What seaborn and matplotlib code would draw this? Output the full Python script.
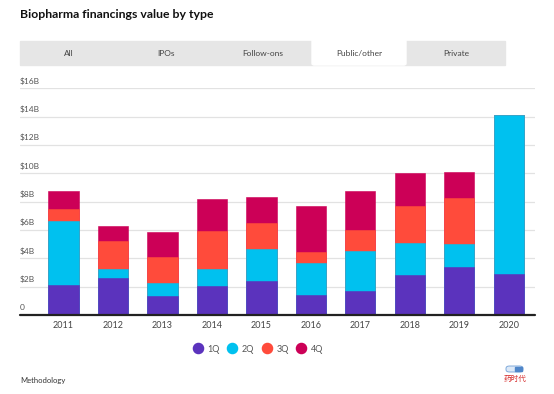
import numpy as np
import pandas as pd
import matplotlib
matplotlib.use('Agg')
import matplotlib.pyplot as plt
import seaborn as sns
from matplotlib.lines import Line2D
from matplotlib.patches import Rectangle, FancyBboxPatch

years = ['2011', '2012', '2013', '2014', '2015', '2016', '2017', '2018', '2019', '2020']
q1 = [2.09, 2.59, 1.34, 2.07, 2.38, 1.44, 1.69, 2.82, 3.39, 2.87]
q2 = [4.57, 0.66, 0.94, 1.18, 2.26, 2.21, 2.83, 2.26, 1.60, 11.25]
q3 = [0.80, 1.97, 1.81, 2.66, 1.85, 0.80, 1.48, 2.61, 3.27, 0.0]
q4 = [1.27, 1.06, 1.77, 2.25, 1.84, 3.22, 2.73, 2.31, 1.83, 0.0]
quarters = ['1Q', '2Q', '3Q', '4Q']
colors = ['#5b33bd', '#00c1ef', '#ff4b3b', '#cc0057']
y_ticks = [0, 2, 4, 6, 8, 10, 12, 14, 16]
y_labels = ['0', '$2B', '$4B', '$6B', '$8B', '$10B', '$12B', '$14B', '$16B']
tabs = ['All', 'IPOs', 'Follow-ons', 'Public/other', 'Private']

sns.set_style('white')
plt.rcParams['font.family'] = ['Lato', 'DejaVu Sans']

W, H = 554, 394
fig = plt.figure(figsize=(W / 100, H / 100), dpi=100)

def fx(px):
    return px / W

def fy(py):
    return 1 - py / H

ax = fig.add_axes([fx(20), fy(315), fx(535) - fx(20), fy(88.3) - fy(315)])

df = pd.DataFrame({'year': years, '1Q': q1, '2Q': q2, '3Q': q3, '4Q': q4})
cum = df[quarters].cumsum(axis=1)

# draw tallest stack first, lower segments painted over it
for qq, col in reversed(list(zip(quarters, colors))):
    sns.barplot(x=df['year'], y=cum[qq], color=col, width=0.61, ax=ax,
                saturation=1, edgecolor=col, linewidth=0.4)

ax.set_xlim(-0.88, 9.53)
ax.set_ylim(0, 16)
ax.set_yticks(y_ticks)
ax.set_yticklabels([])
ax.grid(axis='y', color='#e2e2e2', lw=0.9)
ax.set_axisbelow(True)
sns.despine(ax=ax, left=True, bottom=True)
ax.set_xlabel('')
ax.set_ylabel('')
ax.tick_params(axis='x', length=0, labelsize=6.5, labelcolor='#444444', pad=4)
ax.tick_params(axis='y', length=0)
ax.axhline(0, color='#222222', lw=1.6, clip_on=False, zorder=5)

for v, lab in zip(y_ticks, y_labels):
    ax.text(0, v + 0.25, lab, transform=ax.get_yaxis_transform(), ha='left', va='bottom',
            fontsize=6, color='#555555')

# title
fig.text(fx(20), fy(15), 'Biopharma financings value by type', fontsize=8.8, fontweight='bold',
         color='#111111', va='center', ha='left')

# tab strip
fig.patches.append(Rectangle((fx(20), fy(65)), fx(505) - fx(20), fy(41) - fy(65),
                             transform=fig.transFigure, color='#e6e6e6', zorder=0))
fig.patches.append(FancyBboxPatch((fx(312), fy(65)), fx(406) - fx(312), fy(39) - fy(65),
                                  boxstyle='round,pad=0,rounding_size=0.004',
                                  transform=fig.transFigure, color='white', zorder=1))
edges = np.linspace(20, 505, len(tabs) + 1)
for i, t in enumerate(tabs):
    fig.text(fx((edges[i] + edges[i + 1]) / 2), fy(53), t, fontsize=6, color='#444444',
             ha='center', va='center')

# legend
handles = [Line2D([], [], marker='o', ls='', markersize=7.3, markerfacecolor=c, markeredgecolor=c)
           for c in colors]
fig.legend(handles, quarters, loc='center', bbox_to_anchor=(fx(258), fy(349)), ncol=4, frameon=False,
           fontsize=6.5, labelcolor='#555555', handletextpad=0.55, columnspacing=0.8, handlelength=1.1)

fig.text(fx(20), fy(381), 'Methodology', fontsize=5.5, color='#333333', ha='left', va='center')

# logo
fig.patches.append(FancyBboxPatch((fx(506), fy(372)), fx(523) - fx(506), fy(366) - fy(372),
                                  boxstyle='round,pad=0,rounding_size=0.006',
                                  transform=fig.transFigure, facecolor='#dce9f8',
                                  edgecolor='#6f9fd6', lw=0.6))
fig.patches.append(Rectangle((fx(515), fy(371)), fx(522) - fx(515), fy(367) - fy(371),
                             transform=fig.transFigure, color='#4f86c9'))
fig.text(fx(514.5), fy(378.5), '药时代', fontsize=5.5, color='#d62a2a', ha='center', va='center',
         family=['Noto Sans CJK SC', 'DejaVu Sans'])

fig.savefig('out.png', dpi=100)
